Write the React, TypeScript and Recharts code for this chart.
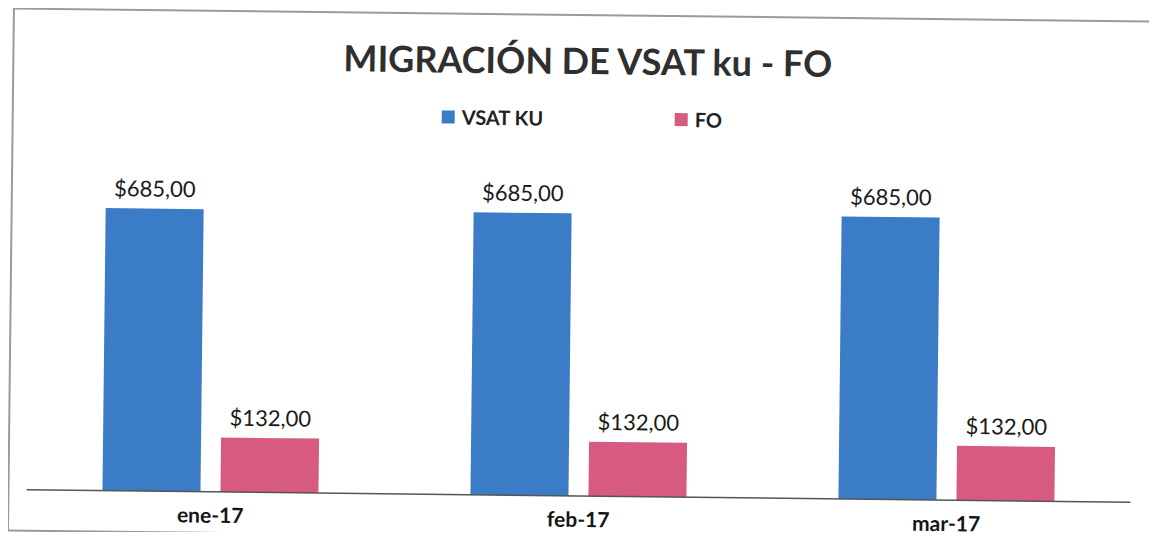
import { Bar, BarChart, XAxis, YAxis, LabelList } from 'recharts';

// datos
const categories = ['ene-17', 'feb-17', 'mar-17'];
const vsatKu = [685, 685, 685];
const fo = [132, 132, 132];
const seriesNames = ['VSAT KU', 'FO'];
const seriesColors = ['#3B7CC6', '#D65B7E'];

const data = categories.map((name, i) => ({ name, vsat: vsatKu[i], fo: fo[i] }));

const money = (v: any) => `$${Number(v).toFixed(2).replace('.', ',')}`;

const font = 'Lato, "Open Sans", sans-serif';

export default function App() {
  return (
    <div style={{ position: 'relative', width: 1157, height: 540, margin: -8, overflow: 'hidden', background: '#fff' }}>
      <div style={{ position: 'absolute', left: 0, top: 0, width: 1157, height: 540, transform: 'rotate(0.65deg)', transformOrigin: '578px 270px' }}>
        {/* marco escaneado */}
        <div style={{ position: 'absolute', left: 10, top: 14, width: 1170, height: 520, border: '2px solid #9a9a9a' }} />
        <div style={{ position: 'absolute', left: 7, top: 40, width: 1157, textAlign: 'center', fontFamily: font, fontWeight: 700, fontSize: 36, lineHeight: '40px', color: '#2f2f2f' }}>
          MIGRACIÓN DE VSAT ku - FO
        </div>
        {seriesNames.map((s, i) => (
          <div key={s} style={{ position: 'absolute', left: i === 0 ? 440 : 673, top: 106, display: 'flex', alignItems: 'center', fontFamily: font, fontWeight: 700, fontSize: 20, color: '#222', lineHeight: '24px' }}>
            <span style={{ display: 'inline-block', width: 13, height: 13, background: seriesColors[i], marginRight: 7 }} />
            {s}
          </div>
        ))}
        <div style={{ position: 'absolute', left: 0, top: 0 }}>
          <BarChart
            width={1157}
            height={540}
            data={data}
            margin={{ top: 166, right: 24, bottom: 4, left: 29 }}
            barCategoryGap={76}
            barGap={20}
          >
            <XAxis
              dataKey="name"
              height={40}
              tickLine={false}
              tickSize={0}
              tickMargin={16}
              axisLine={{ stroke: '#555', strokeWidth: 1.5 }}
              tick={{ fontSize: 21, fontWeight: 700, fill: '#151515', fontFamily: font }}
            />
            <YAxis hide domain={[0, 800]} />
            <Bar dataKey="vsat" name={seriesNames[0]} fill={seriesColors[0]} isAnimationActive={false}>
              <LabelList dataKey="vsat" position="top" offset={12} formatter={money} style={{ fontSize: 22, fill: '#1a1a1a', fontFamily: font }} />
            </Bar>
            <Bar dataKey="fo" name={seriesNames[1]} fill={seriesColors[1]} isAnimationActive={false}>
              <LabelList dataKey="fo" position="top" offset={12} formatter={money} style={{ fontSize: 22, fill: '#1a1a1a', fontFamily: font }} />
            </Bar>
          </BarChart>
        </div>
      </div>
    </div>
  );
}
